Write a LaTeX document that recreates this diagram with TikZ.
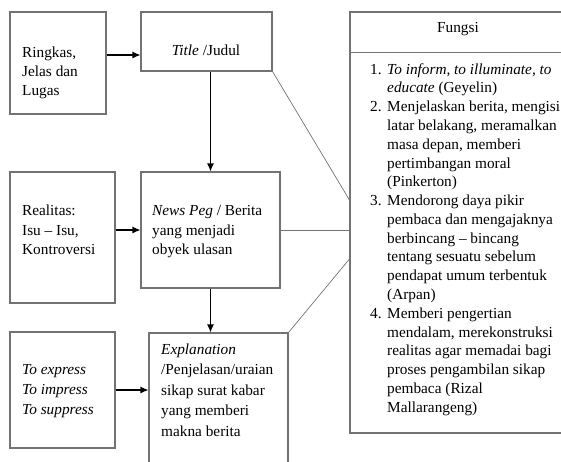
\documentclass[tikz,border=0pt]{standalone}
\usepackage{fontspec}
\setmainfont{Liberation Serif}
\usetikzlibrary{arrows.meta}
\begin{document}
\begin{tikzpicture}[x=1pt,y=-1pt,
  box/.style={draw=black!55,line width=1.1pt,rectangle,inner sep=0pt},
  arr/.style={draw=black,line width=1.2pt,-{Latex[length=8pt,width=7pt]}},
  link/.style={draw=black!55,line width=0.7pt},
  txt/.style={inner sep=0pt,anchor=north west,align=left,text=black},
  f19/.style={font=\fontsize{15.3}{19}\selectfont},
  f195/.style={font=\fontsize{15.3}{19.5}\selectfont},
  f20/.style={font=\fontsize{15.3}{20}\selectfont},
  f205/.style={font=\fontsize{15.3}{20.5}\selectfont},
  flist/.style={font=\fontsize{15.3}{18.78}\selectfont}]
\useasboundingbox (0,0) rectangle (561,462);
\clip (0,0) rectangle (561,462);

% frames
\node[box,minimum width=96pt,minimum height=102pt] (ring) at (58,63) {};
\node[box,minimum width=131pt,minimum height=59pt] (title) at (206.5,41.5) {};
\node[box,minimum width=105pt,minimum height=131pt] (real) at (62.5,237.5) {};
\node[box,minimum width=139pt,minimum height=116pt] (peg) at (210.5,230) {};
\node[box,minimum width=105pt,minimum height=116pt] (expr) at (62.5,390) {};
\node[box,minimum width=139pt,minimum height=147pt] (expl) at (218.5,406.5) {};
\node[box,minimum width=230pt,minimum height=421pt] (fungsi) at (465,222.5) {};
\draw[box] (fungsi.north west) ++(0,41) -- ++(230,0);

% texts
\node[txt,f19] (tring) at (22,43.7) {\strut Ringkas,\\Jelas dan\\Lugas};
\node[inner sep=0pt,anchor=base,font=\fontsize{15.3}{19}\selectfont] (ttitle) at (206,56) {\textit{Title} /Judul};
\node[txt,f195] (treal) at (22,202) {\strut Realitas:\\Isu -- Isu,\\Kontroversi};
\node[txt,f195] (tpeg) at (152,202) {\strut\textit{News Peg} / Berita\\yang menjadi\\obyek ulasan};
\node[txt,f20] (texpr) at (22,360) {\strut\textit{To express}\\\textit{To impress}\\\textit{To suppress}};
\node[txt,f205] (texpl) at (161,339.6) {\strut\textit{Explanation}\\/Penjelasan/uraian\\sikap surat kabar\\yang memberi\\makna berita};
\node[inner sep=0pt,anchor=base,font=\fontsize{15.3}{19}\selectfont] (tfungsi) at (458,33) {Fungsi};
\node[txt,flist] (tlist) at (370,60.85) {%
\strut\makebox[17pt][l]{1.}\textit{To inform, to illuminate, to}\\
\hspace*{17pt}\textit{educate} (Geyelin)\\
\makebox[17pt][l]{2.}Menjelaskan berita, mengisi\\
\hspace*{17pt}latar belakang, meramalkan\\
\hspace*{17pt}masa depan, memberi\\
\hspace*{17pt}pertimbangan moral\\
\hspace*{17pt}(Pinkerton)\\
\makebox[17pt][l]{3.}Mendorong daya pikir\\
\hspace*{17pt}pembaca dan mengajaknya\\
\hspace*{17pt}berbincang -- bincang\\
\hspace*{17pt}tentang sesuatu sebelum\\
\hspace*{17pt}pendapat umum terbentuk\\
\hspace*{17pt}(Arpan)\\
\makebox[17pt][l]{4.}Memberi pengertian\\
\hspace*{17pt}mendalam, merekonstruksi\\
\hspace*{17pt}realitas agar memadai bagi\\
\hspace*{17pt}proses pengambilan sikap\\
\hspace*{17pt}pembaca (Rizal\\
\hspace*{17pt}Mallarangeng)};

% arrows
\coordinate (a1) at ([yshift=8pt]ring.east);
\draw[arr] (a1) -- (a1 -| title.west);
\draw[arr] (peg.north |- title.south) -- (peg.north);
\draw[arr] (real.east |- peg.west) -- (peg.west);
\draw[arr] (peg.south) -- (peg.south |- expl.north);
\draw[arr] (expr.east) -- (expr.east -| expl.west);

% links to the Fungsi column
\coordinate (f1) at ([yshift=22.5pt]fungsi.west);
\coordinate (f3) at ([yshift=-36.5pt]fungsi.west);
\draw[link] (title.south east) -- (f1);
\draw[link] (peg.east) -- (peg.east -| fungsi.west);
\draw[link] (expl.north east) -- (f3);
\end{tikzpicture}
\end{document}
